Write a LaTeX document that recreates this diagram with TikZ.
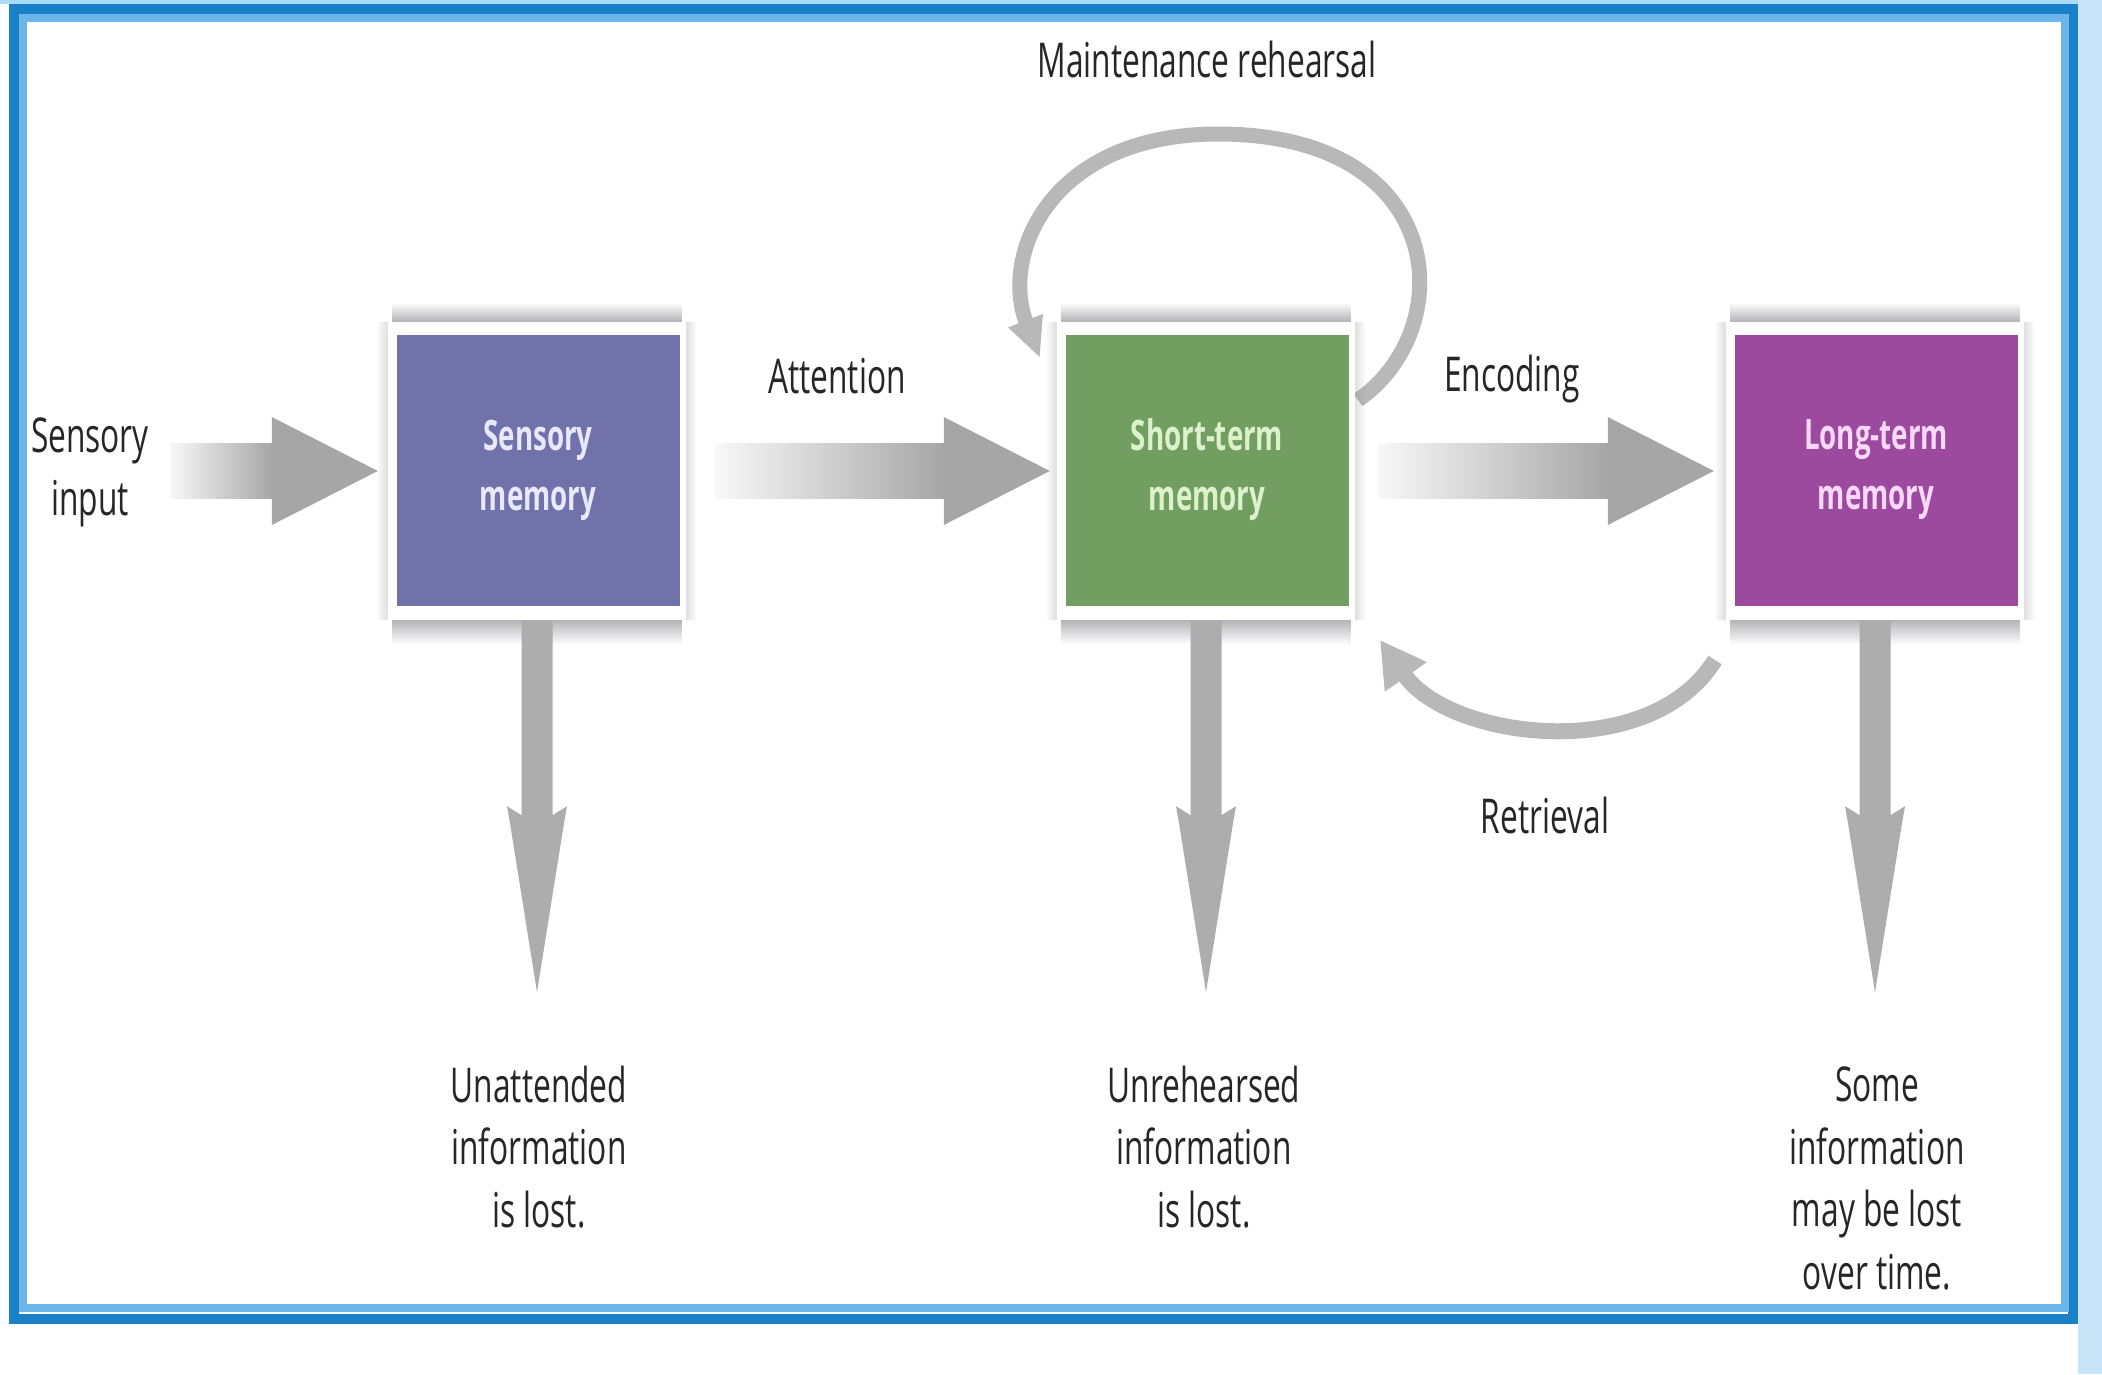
\documentclass[tikz,border=0pt]{standalone}
\usepackage{fontspec}
\setmainfont{Open Sans}[FakeStretch=0.66]
\usetikzlibrary{arrows.meta,calc}
\definecolor{agray}{HTML}{A6A6A6}
\definecolor{lgray}{HTML}{B8B8B8}
\definecolor{vgray}{HTML}{ADADAD}
\definecolor{sgray}{HTML}{8E8E96}
\definecolor{fblue}{HTML}{1A80C8}
\definecolor{fbluetwo}{HTML}{6BB8E8}
\definecolor{sidebg}{HTML}{C8E4F8}
\definecolor{topbg}{HTML}{A8DCF8}
\definecolor{cpur}{HTML}{7272AA}
\definecolor{cgrn}{HTML}{729E62}
\definecolor{cmag}{HTML}{9B4A9E}
\definecolor{tpur}{HTML}{E8E8FF}
\definecolor{tgrn}{HTML}{DDF2CC}
\definecolor{tmag}{HTML}{FAD8FA}
\definecolor{txt}{HTML}{262626}
\newcommand\myfatarrow[2]{%
  \fill[left color=agray!8, right color=agray] let \p1=#1, \p2=#2 in (\x1,\y1+27.5pt) rectangle (\x2-105pt,\y2-27.5pt);
  \fill[agray] let \p2=#2 in (\x2-106pt,\y2+54pt) -- (\x2,\y2) -- (\x2-106pt,\y2-54pt) -- cycle;
}
\newcommand\mylossarrow[1]{%
  \fill[vgray, shift={#1}]
    (-15.5,0) -- (-15.5,195) -- (-30,186) -- (-27,203) -- (0,372) -- (27,203) -- (30,186) -- (15.5,195) -- (15.5,0) -- cycle;
}
\newcommand\myshadow[1]{%
  \foreach \i [evaluate=\i as \op using 0.7*(1-\i/10)] in {1,...,9}
    \fill[sgray, fill opacity=\op] ($(#1.north west)+(4,-2*\i)$) rectangle ($(#1.north east)+(-4,-2*\i+2)$);
  \foreach \i [evaluate=\i as \op using 0.7*(1-\i/13)] in {1,...,12}
    \fill[sgray, fill opacity=\op] ($(#1.south west)+(4,2*\i-2)$) rectangle ($(#1.south east)+(-4,2*\i)$);
  \foreach \i [evaluate=\i as \op using 0.3*(1-\i/6)] in {1,...,5}
    \fill[sgray, fill opacity=\op] ($(#1.north west)+(-2*\i,0)$) rectangle ($(#1.south west)+(-2*\i+2,0)$)
                                   ($(#1.north east)+(2*\i-2,0)$) rectangle ($(#1.south east)+(2*\i,0)$);
}
\begin{document}
\begin{tikzpicture}[x=1pt,y=-1pt,
  lbltext/.style={font=\fontsize{48}{62.5}\selectfont, text=txt, align=center, inner sep=0pt, anchor=base},
  memframe/.style={fill=white, minimum width=298pt, minimum height=298pt, inner sep=0pt},
  memcore/.style={minimum width=283pt, minimum height=271pt, inner sep=0pt, align=center,
     font=\fontsize{42}{60}\selectfont\bfseries},
  loopline/.style={draw=lgray, line width=15pt},
]
\useasboundingbox (0,0) rectangle (2102,1374);
\fill[white] (0,0) rectangle (2102,1374);
\fill[sidebg] (2078,0) rectangle (2102,1374);
\fill[topbg] (0,0) rectangle (2078,4);
\draw[fblue, line width=10pt] (14,9) rectangle (2073,1319);
\draw[fbluetwo, line width=8pt] (22.5,18) rectangle (2065,1308);

% loops (behind boxes)
\coordinate (mrS) at (1358,400);
\coordinate (mrE) at (1040,358);
\draw[loopline, -{Triangle[length=40pt,width=34pt]}] (mrS) .. controls (1460,330) and (1450,134) .. (1218,134) .. controls (1050,134) and (1000,255) .. (mrE);
\coordinate (rtS) at (1715,660);
\coordinate (rtE) at (1380,640);
\draw[loopline, line width=16pt, -{Triangle[length=45pt,width=48pt]}] (rtS) .. controls (1650,765) and (1450,740) .. (rtE);

% boxes
\path (537,471) coordinate (smc) (1206,471) coordinate (stc) (1875,471) coordinate (ltc);
\node[memframe] (smf) at (smc) {};
\node[memframe] (stf) at (stc) {};
\node[memframe] (ltf) at (ltc) {};
\myshadow{smf}
\myshadow{stf}
\myshadow{ltf}
\node[memcore, fill=cpur, text=tpur] (sm) at ($(smc)+(1,-1)$) {Sensory\\memory};
\node[memcore, fill=cgrn, text=tgrn] (st) at ($(stc)+(1,-1)$) {Short-term\\memory};
\node[memcore, fill=cmag, text=tmag] (lt) at ($(ltc)+(1,-1)$) {Long-term\\memory};

% horizontal arrows
\coordinate (inS) at (170,471);
\myfatarrow{(inS)}{($(smf.west)+(-10,0)$)}
\myfatarrow{($(smf.east)+(29,0)$)}{($(stf.west)+(-7,0)$)}
\myfatarrow{($(stf.east)+(23,0)$)}{($(ltf.west)+(-12,0)$)}

% vertical arrows
\mylossarrow{(smf.south)}
\mylossarrow{(stf.south)}
\mylossarrow{(ltf.south)}

% labels (base = baseline of the last line)
\node[lbltext] (mr) at (1207,77) {Maintenance rehearsal};
\node[lbltext] (att) at (837,393) {Attention};
\node[lbltext] (enc) at (1512,391) {Encoding};
\node[lbltext] (ret) at (1545,833) {Retrieval};
\node[lbltext] (sin) at (90,515) {Sensory\\input};
\node[lbltext] (lost1) at (539,1227) {Unattended\\information\\is lost.};
\node[lbltext] (lost2) at (1204,1227) {Unrehearsed\\information\\is lost.};
\node[lbltext] (lost3) at (1877,1289) {Some\\information\\may be lost\\over time.};
\end{tikzpicture}
\end{document}
